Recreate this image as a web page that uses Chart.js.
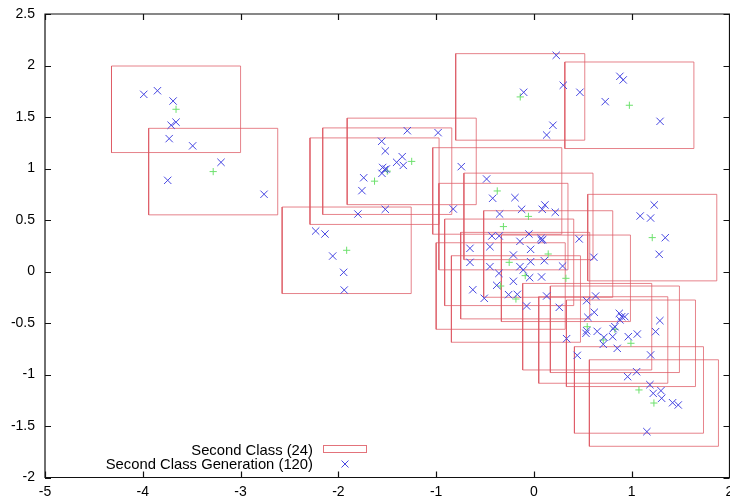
<!DOCTYPE html>
<html>
<head>
<meta charset="utf-8">
<script src="https://cdn.jsdelivr.net/npm/chart.js@4/dist/chart.umd.min.js"></script>
<style>
    body { margin: 0; background: #fff; }
    #wrap { position: relative; width: 730px; height: 500px; }
    .leg { position: absolute; left: 0; width: 313px; text-align: right;
           font: 14.8px "Liberation Sans", Arial, sans-serif; line-height: 16px; color: #000; }
</style>
</head>
<body>
<div id="wrap">
    <canvas id="myChart" width="730" height="500"></canvas>
    <div class="leg" id="leg1" style="top:442px"></div>
    <div class="leg" id="leg2" style="top:456px"></div>
    <div style="position:absolute; left:323px; top:445px; width:42px; height:6px; border:1px solid rgba(222,90,100,0.85)"></div>
    <svg style="position:absolute; left:340px; top:459px" width="10" height="10">
        <path d="M1.5 1.5 L8.5 8.5 M8.5 1.5 L1.5 8.5" stroke="rgb(70,70,225)" stroke-width="1" fill="none"/>
    </svg>
</div>
<script>
// box centres (green +), one per second-class box
const centerX = [-3.66, -3.28, -1.25, -1.5, -1.63, -0.14, -0.375, -0.056, -0.312, 0.976, 1.21, -1.915,
    0.146, -0.253, -0.089, 0.327, -0.34, -0.184, 0.545, 0.828, 0.709, 0.992, 1.074, 1.227];
const centerY = [1.575, 0.97, 1.069, 0.974, 0.877, 1.695, 0.782, 0.535, 0.436, 1.614, 0.329, 0.206,
    0.17, 0.089, -0.04, -0.066, -0.141, -0.267, -0.536, -0.561, -0.665, -0.697, -1.15, -1.277];
// every box has the same extent in data units
const boxWidth = 1.32;
const boxHeight = 0.84;

// generated points (blue x)
const genX = [-3.99, -3.85, -3.69, -3.71, -3.66, -3.73, -3.49, -3.20, -3.745, -2.76,
    -1.295, -0.98, -1.557, -1.52, -1.347, -1.404, -1.336, -1.547, -1.527, -1.554,
    -1.741, -1.759, -1.80, -1.52, -2.232, -2.137, -2.058, -1.946, -1.94, 0.228,
    -0.105, 0.30, 0.47, 0.194, 0.13, 0.879, 0.913, 0.729, 1.29, 1.23,
    1.087, 1.193, 1.343, 1.281, -0.743, -0.484, -0.825, -0.654, -0.654, -0.625,
    -0.422, -0.194, -0.126, 0.112, 0.085, 0.218, -0.351, -0.051, 0.072, 0.078,
    -0.143, -0.43, -0.355, -0.45, 0.463, -0.034, -0.21, -0.034, 0.106, -0.143,
    -0.109, -0.044, 0.078, 0.293, 0.613, -0.45, -0.358, -0.21, -0.381, -0.259,
    -0.17, -0.508, -0.075, 0.13, 0.259, 0.539, 0.631, 0.552, 0.617, 0.873,
    0.897, 0.93, 0.828, 1.288, 1.244, 0.334, 0.532, 0.539, 0.647, 0.716,
    0.805, 0.965, 1.057, 0.709, 0.852, 0.443, 1.193, 0.958, 1.05, 1.186,
    1.22, 1.299, 1.306, 1.418, 1.476, 1.155, -1.51, 0.81, 0.88, 0.09];
const genY = [1.72, 1.755, 1.655, 1.42, 1.45, 1.29, 1.22, 1.06, 0.885, 0.75,
    1.367, 1.348, 1.264, 1.17, 1.115, 1.06, 1.03, 1.01, 0.99, 0.953,
    0.91, 0.785, 0.558, 0.604, 0.393, 0.364, 0.15, -0.008, -0.18, 2.099,
    1.74, 1.808, 1.74, 1.42, 1.325, 1.895, 1.86, 1.649, 1.458, 0.646,
    0.539, 0.519, 0.328, 0.167, 1.018, 0.898, 0.607, 0.225, 0.089, -0.177,
    0.711, 0.717, 0.604, 0.646, 0.604, 0.575, 0.558, 0.364, 0.322, 0.303,
    0.293, 0.345, 0.345, 0.241, 0.316, 0.215, 0.16, 0.095, 0.105, 0.047,
    0.015, -0.06, -0.053, 0.053, 0.138, 0.047, -0.018, -0.095, -0.134, -0.225,
    -0.222, -0.26, -0.335, -0.238, -0.348, -0.283, -0.238, -0.445, -0.396, -0.406,
    -0.439, -0.439, -0.536, -0.477, -0.584, -0.652, -0.6, -0.575, -0.581, -0.639,
    -0.633, -0.633, -0.607, -0.707, -0.746, -0.814, -0.81, -1.021, -0.973, -1.099,
    -1.183, -1.157, -1.231, -1.274, -1.296, -1.555, 0.995, -0.555, -0.47, 0.31];

const boxLabel = 'Second Class (24)';
const genLabel = 'Second Class Generation (120)';

const boxColor = 'rgba(222,90,100,0.75)';
const genColor = 'rgb(70,70,225)';
const centerColor = 'rgb(110,225,110)';

// outline of every box, separated by gaps
const boxPoints = [];
centerX.forEach(function (cx, i) {
    const cy = centerY[i];
    const x0 = cx - boxWidth / 2, x1 = cx + boxWidth / 2;
    const y0 = cy - boxHeight / 2, y1 = cy + boxHeight / 2;
    boxPoints.push({x: x0, y: y0}, {x: x1, y: y0}, {x: x1, y: y1}, {x: x0, y: y1}, {x: x0, y: y0});
    boxPoints.push({x: cx, y: null});
});

// gnuplot style frame with inward ticks on all four sides
const framePlugin = {
    id: 'frame',
    afterDraw: function (chart) {
        const ctx = chart.ctx;
        const a = chart.chartArea;
        const sx = chart.scales.x, sy = chart.scales.y;
        const tl = 6;
        ctx.save();
        ctx.strokeStyle = '#111';
        ctx.lineWidth = 1.2;
        ctx.beginPath();
        ctx.rect(a.left, a.top, a.right - a.left, a.bottom - a.top);
        sx.ticks.forEach(function (t) {
            const px = Math.round(sx.getPixelForValue(t.value)) + 0.5;
            ctx.moveTo(px, a.bottom); ctx.lineTo(px, a.bottom - tl);
            ctx.moveTo(px, a.top); ctx.lineTo(px, a.top + tl);
        });
        sy.ticks.forEach(function (t) {
            const py = Math.round(sy.getPixelForValue(t.value)) + 0.5;
            ctx.moveTo(a.left, py); ctx.lineTo(a.left + tl, py);
            ctx.moveTo(a.right, py); ctx.lineTo(a.right - tl, py);
        });
        ctx.stroke();
        ctx.restore();
    }
};

const tickFont = {family: '"Liberation Sans", Arial, sans-serif', size: 14};

const config = {
    type: 'scatter',
    data: {
        datasets: [
            {
                label: genLabel,
                data: genX.map(function (x, i) { return {x: x, y: genY[i]}; }),
                pointStyle: 'crossRot',
                pointRadius: 5.2,
                borderColor: genColor,
                borderWidth: 1,
                order: 1
            },
            {
                label: 'centres',
                data: centerX.map(function (x, i) { return {x: x, y: centerY[i]}; }),
                pointStyle: 'cross',
                pointRadius: 3.6,
                borderColor: centerColor,
                borderWidth: 1,
                order: 2
            },
            {
                label: boxLabel,
                data: boxPoints,
                showLine: true,
                spanGaps: false,
                pointRadius: 0,
                borderColor: boxColor,
                borderWidth: 1,
                order: 3
            }
        ]
    },
    options: {
        responsive: false,
        animation: false,
        layout: {autoPadding: false, padding: {top: 14, right: 0.5, left: 0, bottom: 0}},
        plugins: {
            legend: {display: false},
            tooltip: {enabled: false}
        },
        scales: {
            x: {
                type: 'linear',
                min: -5,
                max: 2,
                ticks: {stepSize: 1, color: '#000', font: tickFont, padding: 6, maxRotation: 0},
                grid: {drawOnChartArea: false, drawTicks: false},
                border: {display: false},
                afterFit: function (scale) {
                    scale.height = 22.5;
                    scale.paddingLeft = 0;
                    scale.paddingRight = 0;
                }
            },
            y: {
                min: -2,
                max: 2.5,
                ticks: {
                    stepSize: 0.5, color: '#000', font: tickFont, padding: 10,
                    callback: function (v) { return String(Math.round(v * 10) / 10); }
                },
                grid: {drawOnChartArea: false, drawTicks: false},
                border: {display: false},
                afterFit: function (scale) {
                    scale.width = 45;
                    scale.paddingTop = 0;
                    scale.paddingBottom = 0;
                }
            }
        }
    },
    plugins: [framePlugin]
};

const myChart = new Chart(
    document.getElementById('myChart'),
    config
);

document.getElementById('leg1').textContent = boxLabel;
document.getElementById('leg2').textContent = genLabel;
</script>
</body>
</html>
